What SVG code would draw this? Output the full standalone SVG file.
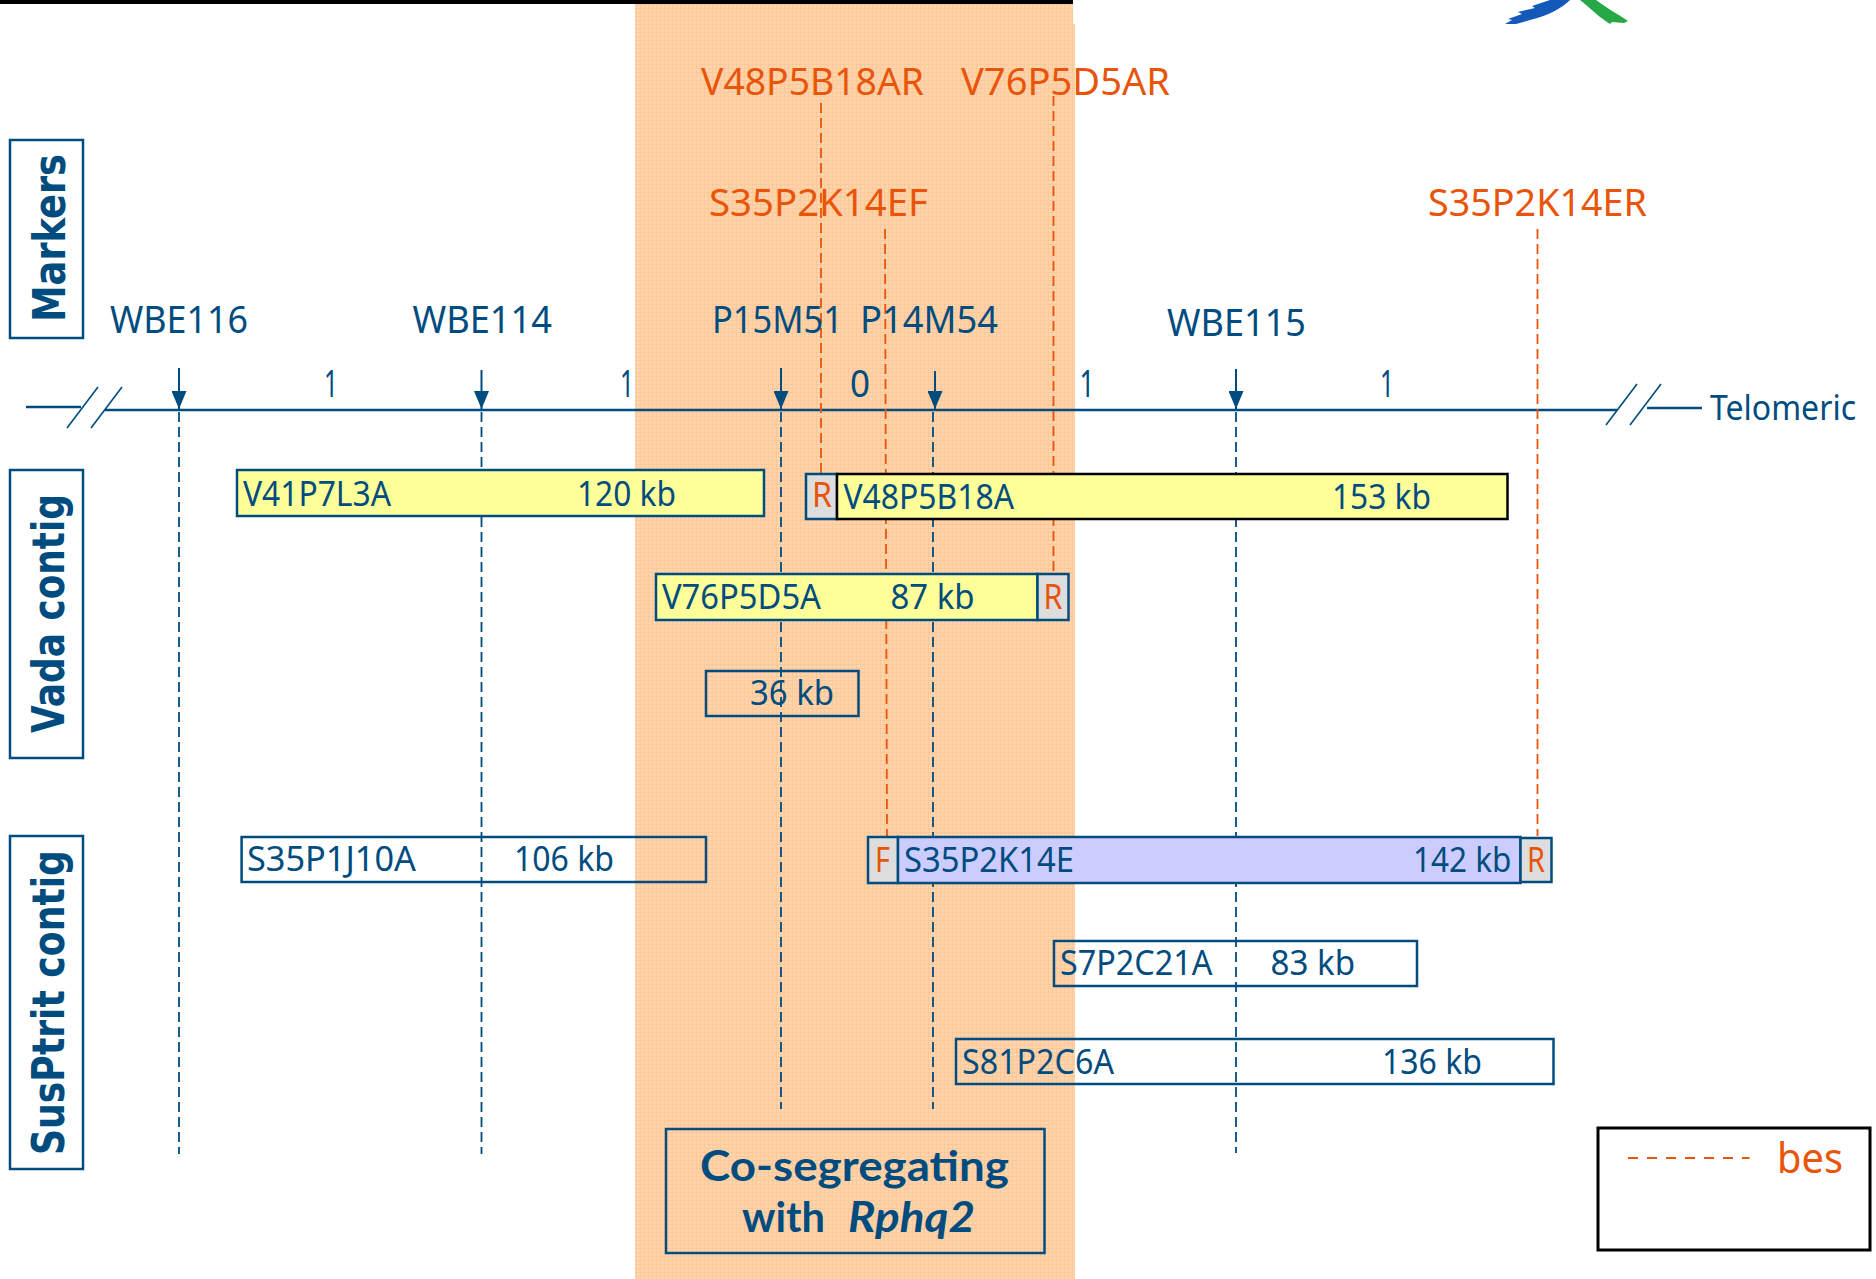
<svg xmlns="http://www.w3.org/2000/svg" width="1876" height="1279" viewBox="0 0 1876 1279">
<style>
text{font-family:"Noto Sans","Liberation Sans",sans-serif;fill:#004c7f;font-size:34px}
.o{fill:#e8550a}
.m{font-size:38px}
.h{font-family:"DejaVu Sans","Liberation Sans",sans-serif;font-weight:700;font-size:44px}
.c{font-family:Lato,"Liberation Sans",sans-serif;font-weight:700;font-size:42px}
.ax{stroke:#004c7f;stroke-width:2.5;fill:none}
.th{stroke:#004c7f;stroke-width:1.6;fill:none}
.ar{stroke:#004c7f;stroke-width:2;fill:none}
.dn{stroke:#004c7f;stroke-width:1.8;fill:none;stroke-dasharray:10 5}
.do{stroke:#e8550a;stroke-width:1.8;fill:none;stroke-dasharray:10 5}
.b{stroke:#004c7f;stroke-width:2.5;fill:none}
.y{fill:#ffff99}.g{fill:#dddddd}.p{fill:#ccccff}
.k{stroke:#000;stroke-width:2.500}
</style>
<defs>
<pattern id="hatch" width="4" height="4" patternUnits="userSpaceOnUse">
<rect width="4" height="4" fill="#ffd4ac"/>
<path d="M0 .5H4M.5 0V4" stroke="#fec999" stroke-width="1"/>
</pattern>
<marker id="ah" markerWidth="15" markerHeight="18" refX="7.500" refY="18" orient="0" markerUnits="userSpaceOnUse" viewBox="0 0 15 18"><path d="M0 0H15L7.500 18Z" fill="#004c7f"/></marker>
</defs>
<rect width="1876" height="1279" fill="#fff"/>
<g id="band"><path d="M635 0H1073V24H1075V1279H635Z" fill="url(#hatch)"/></g>
<rect id="topbar" x="0" y="0" width="1073" height="4" fill="#000"/>
<g id="logo">
<path d="M1505 24L1512 20 1508 19 1522 14 1518 12 1535 8 1532 6 1550 0H1570C1562 8 1548 16 1530 20L1516 24Z" fill="#1259b8"/>
<path d="M1580 0H1596C1605 7 1616 13 1628 21L1624 23 1612 22 1610 24C1600 18 1590 8 1580 0Z" fill="#25a845"/>
</g>
<g id="connectors">
<path class="ax" d="M26 407H81M105 410H1617M1647 408H1702"/>
<path class="th" d="M67 428 98 387M91 428 122 387M1606 425 1637 384M1630 425 1661 384"/>
<path class="ar" marker-end="url(#ah)" d="M179 368V409"/>
<path class="ar" marker-end="url(#ah)" d="M481.500 370V409"/>
<path class="ar" marker-end="url(#ah)" d="M781 368V409"/>
<path class="ar" marker-end="url(#ah)" d="M935 371V409"/>
<path class="ar" marker-end="url(#ah)" d="M1236 369V409"/>
<path class="dn" d="M179 412V1154M481.500 412V1154M781 412V1109M933 412V1109M1236 412V1153"/>
<path class="do" d="M821 103V473M885 229 887 836M1053.500 96V573M1537.500 229V836"/>
</g>
<g id="row-markers"><rect class="b" x="10" y="140" width="73" height="198"/><text class="h" transform="translate(65 322) rotate(-90)" textLength="168" lengthAdjust="spacingAndGlyphs">Markers</text></g>
<g id="row-vada"><rect class="b" x="10" y="470" width="73" height="288"/><text class="h" transform="translate(64 733) rotate(-90)" textLength="239" lengthAdjust="spacingAndGlyphs">Vada contig</text></g>
<g id="row-susptrit"><rect class="b" x="10" y="836" width="73" height="333"/><text class="h" transform="translate(64 1155) rotate(-90)" textLength="305" lengthAdjust="spacingAndGlyphs">SusPtrit contig</text></g>
<g id="marker-labels">
<text class="m o" x="701" y="95" textLength="223" lengthAdjust="spacingAndGlyphs">V48P5B18AR</text>
<text class="m o" x="961" y="95" textLength="209" lengthAdjust="spacingAndGlyphs">V76P5D5AR</text>
<text class="m o" x="709" y="216" textLength="219" lengthAdjust="spacingAndGlyphs">S35P2K14EF</text>
<text class="m o" x="1428" y="216" textLength="219" lengthAdjust="spacingAndGlyphs">S35P2K14ER</text>
<text class="m" x="110" y="333" textLength="138" lengthAdjust="spacingAndGlyphs">WBE116</text>
<text class="m" x="412.500" y="333" textLength="139.500" lengthAdjust="spacingAndGlyphs">WBE114</text>
<text class="m" x="712" y="333" textLength="131" lengthAdjust="spacingAndGlyphs">P15M51</text>
<text class="m" x="860" y="333" textLength="138" lengthAdjust="spacingAndGlyphs">P14M54</text>
<text class="m" x="1167" y="336" textLength="139" lengthAdjust="spacingAndGlyphs">WBE115</text>
<text class="m" x="324" y="397" textLength="14" lengthAdjust="spacingAndGlyphs">1</text>
<text class="m" x="620" y="397" textLength="14" lengthAdjust="spacingAndGlyphs">1</text>
<text class="m" x="850" y="397" textLength="20" lengthAdjust="spacingAndGlyphs">0</text>
<text class="m" x="1079.500" y="397" textLength="15" lengthAdjust="spacingAndGlyphs">1</text>
<text class="m" x="1380" y="397" textLength="14" lengthAdjust="spacingAndGlyphs">1</text>
<text x="1710" y="420" textLength="146" lengthAdjust="spacingAndGlyphs">Telomeric</text>
</g>
<g id="clone-V41P7L3A"><rect class="b y" x="237" y="470" width="527" height="46"/><text x="243" y="506" textLength="148" lengthAdjust="spacingAndGlyphs">V41P7L3A</text><text x="577" y="506" textLength="99" lengthAdjust="spacingAndGlyphs">120 kb</text></g>
<g id="clone-V48P5B18A"><rect class="b g" x="806" y="474" width="31" height="45"/><text class="o" x="812" y="507" textLength="20" lengthAdjust="spacingAndGlyphs">R</text><rect class="y k" x="837" y="474" width="670.500" height="45"/><text x="843.500" y="509" textLength="170.500" lengthAdjust="spacingAndGlyphs">V48P5B18A</text><text x="1332" y="509" textLength="99" lengthAdjust="spacingAndGlyphs">153 kb</text></g>
<g id="clone-V76P5D5A"><rect class="b y" x="656" y="574" width="381.500" height="46"/><text x="662" y="609" textLength="159" lengthAdjust="spacingAndGlyphs">V76P5D5A</text><text x="890.500" y="609" textLength="84" lengthAdjust="spacingAndGlyphs">87 kb</text><rect class="b g" x="1037.500" y="574" width="31" height="46"/><text class="o" x="1043.500" y="609" textLength="19" lengthAdjust="spacingAndGlyphs">R</text></g>
<g id="clone-36kb"><rect class="b" x="706" y="671" width="152.500" height="45"/><text x="750" y="705" textLength="84" lengthAdjust="spacingAndGlyphs">36 kb</text></g>
<g id="clone-S35P1J10A"><rect class="b" x="241.600" y="837" width="464.400" height="45"/><text x="247" y="871" textLength="169" lengthAdjust="spacingAndGlyphs">S35P1J10A</text><text x="514" y="871" textLength="100" lengthAdjust="spacingAndGlyphs">106 kb</text></g>
<g id="clone-S35P2K14E"><rect class="b g" x="868" y="837" width="30" height="46"/><text class="o" x="875" y="872" textLength="15" lengthAdjust="spacingAndGlyphs">F</text><rect class="b p" x="898" y="837" width="622.500" height="46"/><text x="904" y="872" textLength="170" lengthAdjust="spacingAndGlyphs">S35P2K14E</text><text x="1413" y="872" textLength="98.500" lengthAdjust="spacingAndGlyphs">142 kb</text><rect class="b g" x="1520.500" y="838" width="31" height="44"/><text class="o" x="1527" y="872" textLength="18" lengthAdjust="spacingAndGlyphs">R</text></g>
<g id="clone-S7P2C21A"><rect class="b" x="1054" y="941" width="363" height="45"/><text x="1060" y="975" textLength="152.500" lengthAdjust="spacingAndGlyphs">S7P2C21A</text><text x="1270.500" y="975" textLength="84.500" lengthAdjust="spacingAndGlyphs">83 kb</text></g>
<g id="clone-S81P2C6A"><rect class="b" x="956" y="1039" width="597.500" height="45"/><text x="962" y="1074" textLength="152" lengthAdjust="spacingAndGlyphs">S81P2C6A</text><text x="1382" y="1074" textLength="100" lengthAdjust="spacingAndGlyphs">136 kb</text></g>
<g id="callout"><rect class="b" x="666" y="1129" width="378.500" height="124"/><text class="c" x="700" y="1181" textLength="309" lengthAdjust="spacingAndGlyphs">Co-segregating</text><text class="c" x="742" y="1232" textLength="83" lengthAdjust="spacingAndGlyphs">with</text><text class="c" font-style="italic" x="848" y="1232" textLength="127" lengthAdjust="spacingAndGlyphs">Rphq2</text></g>
<g id="legend"><rect fill="#fff" stroke="#000" stroke-width="3" x="1598" y="1128" width="272" height="122"/><path class="do" d="M1628 1158H1749.500" style="stroke-dasharray:10 9;stroke-width:2"/><text class="o" style="font-size:42px" x="1777" y="1173" textLength="66" lengthAdjust="spacingAndGlyphs">bes</text></g>
</svg>
